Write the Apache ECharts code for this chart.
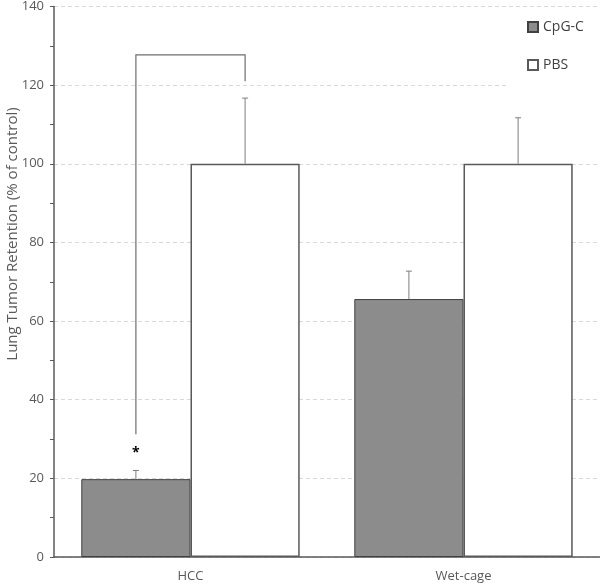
<!DOCTYPE html>
<html><head><meta charset="utf-8">
<script src="https://cdn.jsdelivr.net/npm/echarts@6/dist/echarts.min.js"></script>
<style>html,body{margin:0;padding:0;background:#fff}#c{width:600px;height:585px}</style>
</head><body><div id="c"></div>
<script>
const categories = ['HCC', 'Wet-cage'];
const seriesNames = ['CpG-C', 'PBS'];
const cpgValues = [19.8, 65.6];
const cpgErrors = [2.2, 7.1];
const pbsValues = [100, 100];
const pbsErrors = [16.7, 11.7];
const yTicks = [0, 20, 40, 60, 80, 100, 120, 140];
const bracketTop = 127.7;
const bracketLeftBottom = 31.2;
const bracketRightBottom = 121;
const asteriskValue = 26.4;

const FONT = 'Open Sans';
const chart = echarts.init(document.getElementById('c'), null, {renderer: 'canvas'});
const BAR_OFFSET = 0.2;

const errData = [];
cpgValues.forEach((v, i) => errData.push([i, v, cpgErrors[i], 0]));
pbsValues.forEach((v, i) => errData.push([i, v, pbsErrors[i], 1]));

chart.setOption({
  animation: false,
  textStyle: {fontFamily: FONT},
  grid: {left: 54, right: 0, top: 5, bottom: 28},
  legend: {
    orient: 'vertical', left: 507, top: 10,
    padding: [10, 20, 14, 20], backgroundColor: '#fff',
    itemWidth: 10, itemHeight: 10, itemGap: 24, icon: 'rect',
    textStyle: {fontFamily: FONT, fontSize: 14, color: '#404040'},
    data: seriesNames
  },
  xAxis: {
    type: 'category', data: categories,
    axisLine: {lineStyle: {color: '#5a5a5a', width: 1.5}},
    axisTick: {show: false},
    axisLabel: {fontFamily: FONT, fontSize: 13, color: '#595959', margin: 13}
  },
  yAxis: {
    type: 'value', min: yTicks[0], max: yTicks[yTicks.length - 1], interval: 20,
    axisLine: {show: true, lineStyle: {color: '#5a5a5a', width: 1.5}},
    axisTick: {show: true, length: 4, lineStyle: {color: '#5a5a5a'}},
    minorTick: {show: true, splitNumber: 2, length: 4, lineStyle: {color: '#5a5a5a'}},
    axisLabel: {fontFamily: FONT, fontSize: 13, color: '#595959', margin: 10},
    splitLine: {show: true, lineStyle: {color: '#d9d9d9', type: [4, 3]}}
  },
  graphic: [{
    type: 'text', x: 13, y: 234, rotation: Math.PI / 2,
    style: {text: 'Lung Tumor Retention (% of control)', fontFamily: FONT, fontSize: 15,
      fill: '#595959', align: 'center', verticalAlign: 'middle'}
  }],
  series: [
    {name: seriesNames[0], type: 'bar', data: cpgValues, barGap: '0%', barCategoryGap: '20%',
      itemStyle: {color: '#8c8c8c', borderColor: '#404040', borderWidth: 1}},
    {name: seriesNames[1], type: 'bar', data: pbsValues, barGap: '0%', barCategoryGap: '20%',
      itemStyle: {color: '#ffffff', borderColor: '#595959', borderWidth: 1.5}},
    {
      type: 'custom', data: errData, z: 5,
      renderItem: function (params, api) {
        const band = api.size([1, 0])[0];
        const off = (api.value(3) === 0 ? -1 : 1) * band * BAR_OFFSET;
        const base = api.coord([api.value(0), api.value(1)]);
        const top = api.coord([api.value(0), api.value(1) + api.value(2)]);
        const x = base[0] + off;
        return {type: 'group', children: [
          {type: 'line', shape: {x1: x, y1: base[1], x2: x, y2: top[1]}, style: {stroke: '#7f7f7f', lineWidth: 1}},
          {type: 'line', shape: {x1: x - 3, y1: top[1], x2: x + 3, y2: top[1]}, style: {stroke: '#7f7f7f', lineWidth: 1}}
        ]};
      }
    },
    {
      type: 'custom', data: [[0, bracketTop, bracketLeftBottom, bracketRightBottom, asteriskValue]], z: 5,
      renderItem: function (params, api) {
        const band = api.size([1, 0])[0];
        const c = api.coord([api.value(0), api.value(1)]);
        const xl = c[0] - band * BAR_OFFSET, xr = c[0] + band * BAR_OFFSET;
        const yl = api.coord([api.value(0), api.value(2)])[1];
        const yr = api.coord([api.value(0), api.value(3)])[1];
        const ya = api.coord([api.value(0), api.value(4)])[1];
        return {type: 'group', children: [
          {type: 'polyline', shape: {points: [[xl, yl], [xl, c[1]], [xr, c[1]], [xr, yr]]},
            style: {stroke: '#6e6e6e', lineWidth: 1.2, fill: null}},
          {type: 'text', x: xl, y: ya, style: {text: '*', fontFamily: FONT, fontSize: 14, fontWeight: 'bold',
            fill: '#000', align: 'center', verticalAlign: 'middle'}}
        ]};
      }
    }
  ]
});
</script></body></html>
